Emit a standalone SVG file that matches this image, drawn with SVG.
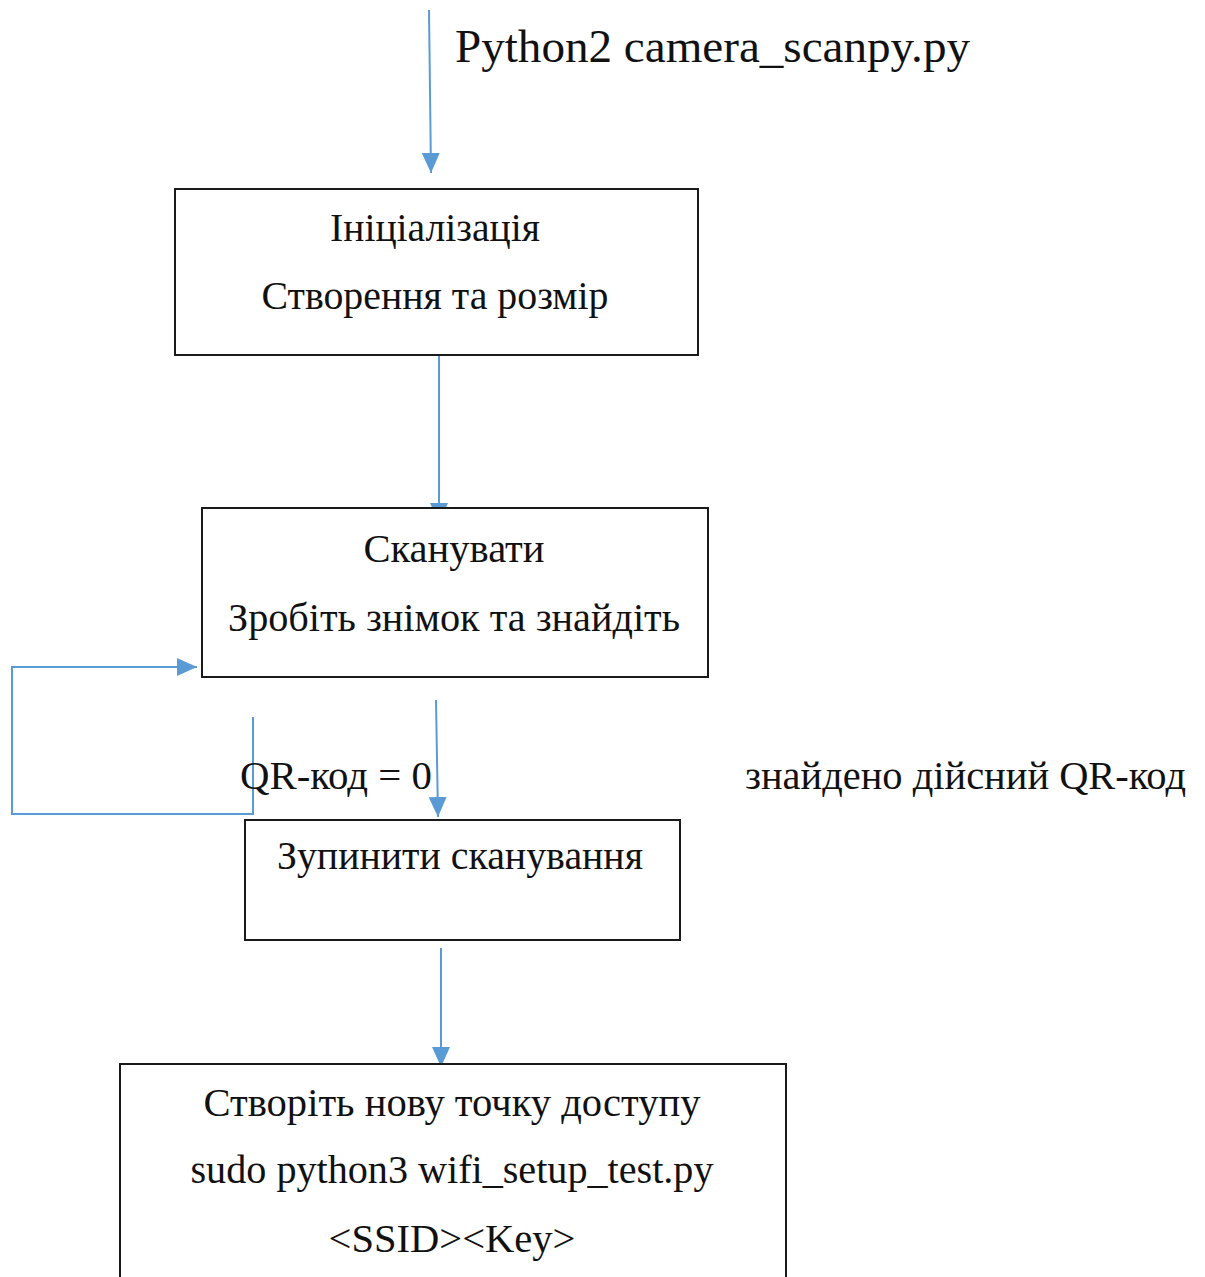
<svg xmlns="http://www.w3.org/2000/svg" width="1205" height="1277" viewBox="0 0 1205 1277">
<style>
.box{fill:#fff;stroke:#1a1a1a;stroke-width:2}
.t{font-family:"Liberation Serif","Times New Roman",serif;font-size:40px;fill:#111;text-anchor:middle}
.tl{font-family:"Liberation Serif","Times New Roman",serif;font-size:40px;fill:#111}
.c{fill:none;stroke:#5b9bd5;stroke-width:2}
</style>
<defs>
<marker id="ah" markerUnits="userSpaceOnUse" markerWidth="20" markerHeight="22" refX="20" refY="9" orient="auto">
<path d="M0,0 L20,9 L0,18 Z" fill="#5b9bd5"/>
</marker>
</defs>
<g id="connectors">
<path class="c" d="M429,10 L431,173" marker-end="url(#ah)"/>
<path class="c" d="M439,356 L439,523" marker-end="url(#ah)"/>
<path class="c" d="M253,717 L253,814 L12,814 L12,667 L197,667" marker-end="url(#ah)"/>
<path class="c" d="M436,700 L438,817" marker-end="url(#ah)"/>
<path class="c" d="M441,948 L441,1067" marker-end="url(#ah)"/>
</g>
<g id="title">
<text class="tl" x="455" y="62" style="font-size:46px" textLength="515" lengthAdjust="spacingAndGlyphs">Python2 camera_scanpy.py</text>
</g>
<g id="node-init">
<rect class="box" x="175" y="189" width="523" height="166"/>
<text class="t" x="435" y="241" textLength="210" lengthAdjust="spacingAndGlyphs">Ініціалізація</text>
<text class="t" x="435" y="309" textLength="347" lengthAdjust="spacingAndGlyphs">Створення та розмір</text>
</g>
<g id="node-scan">
<rect class="box" x="202" y="508" width="506" height="169"/>
<text class="t" x="454" y="562" textLength="181" lengthAdjust="spacingAndGlyphs">Сканувати</text>
<text class="t" x="454" y="631" textLength="452" lengthAdjust="spacingAndGlyphs">Зробіть знімок та знайдіть</text>
</g>
<g id="labels">
<text class="tl" x="240" y="789" textLength="192" lengthAdjust="spacingAndGlyphs">QR-код = 0</text>
<text class="tl" x="745" y="789" textLength="441" lengthAdjust="spacingAndGlyphs">знайдено дійсний QR-код</text>
</g>
<g id="node-stop">
<rect class="box" x="245" y="820" width="435" height="120"/>
<text class="t" x="460" y="869" textLength="366" lengthAdjust="spacingAndGlyphs">Зупинити сканування</text>
</g>
<g id="node-ap">
<rect class="box" x="120" y="1064" width="666" height="230"/>
<text class="t" x="452" y="1116" textLength="497" lengthAdjust="spacingAndGlyphs">Створіть нову точку доступу</text>
<text class="t" x="452" y="1183" textLength="523" lengthAdjust="spacingAndGlyphs">sudo python3 wifi_setup_test.py</text>
<text class="t" x="452" y="1252" textLength="247" lengthAdjust="spacingAndGlyphs">&lt;SSID&gt;&lt;Key&gt;</text>
</g>
</svg>
